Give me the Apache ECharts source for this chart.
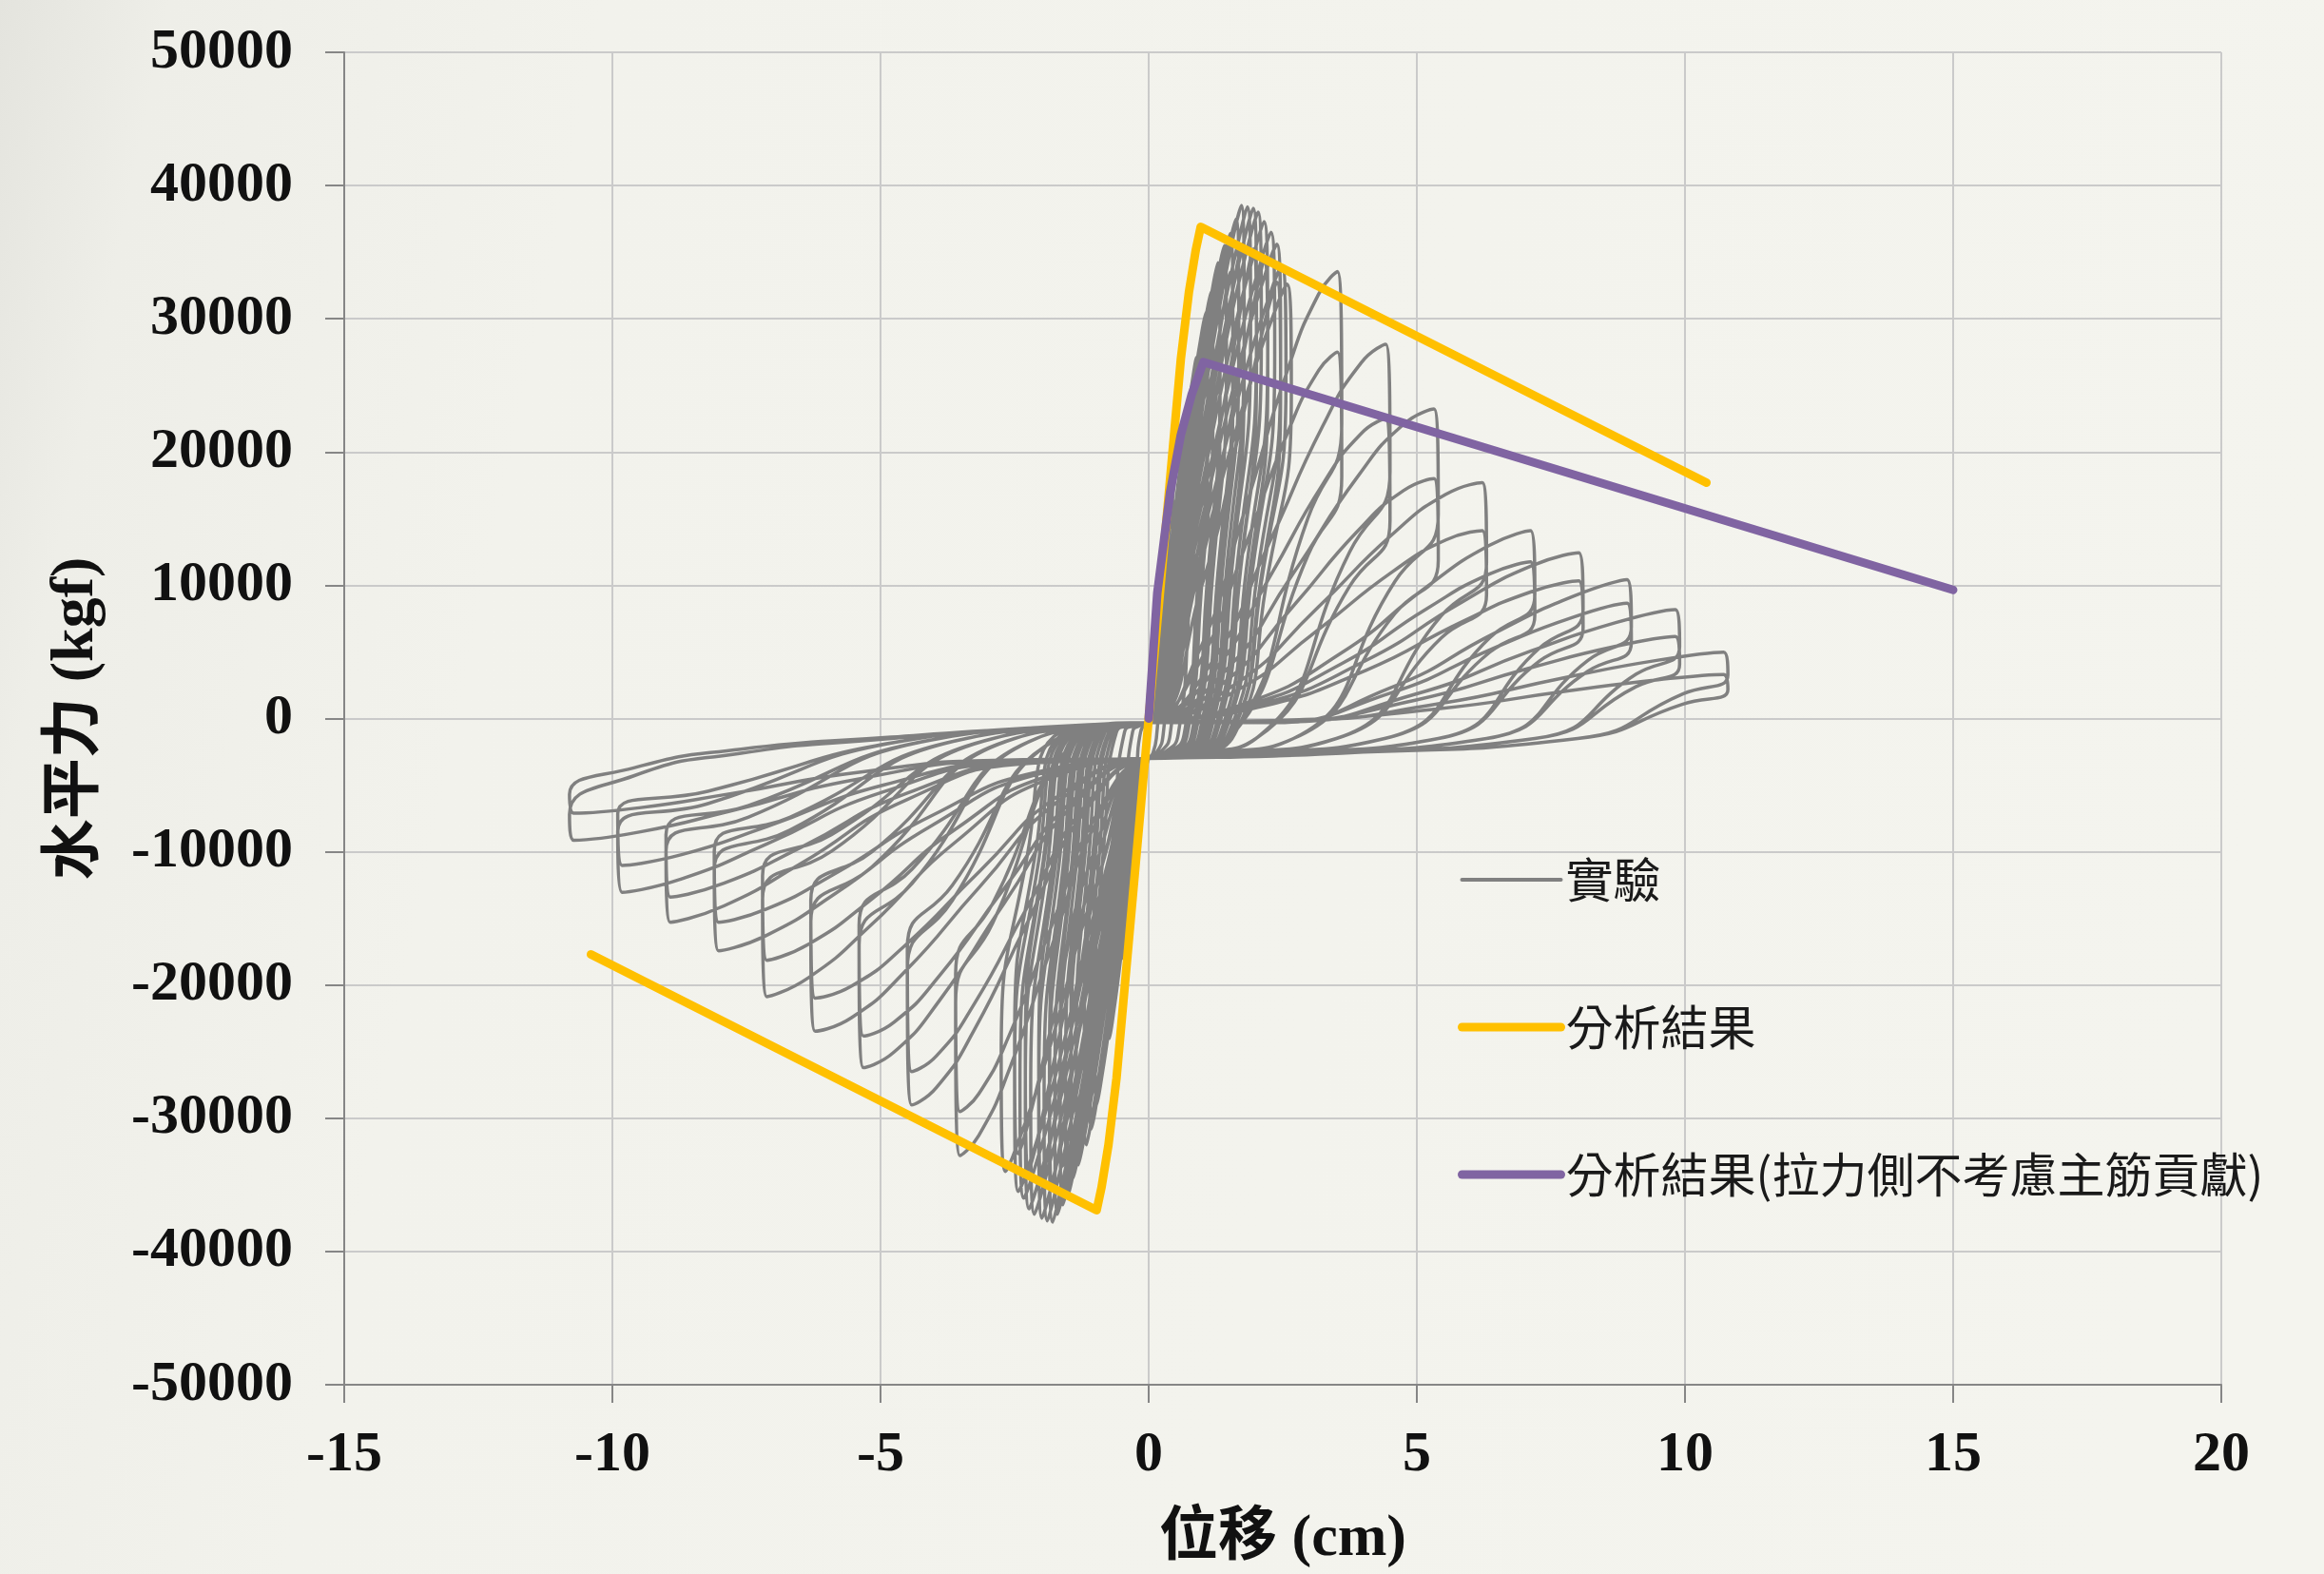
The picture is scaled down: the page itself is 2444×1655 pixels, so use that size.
<!DOCTYPE html>
<html>
<head>
<meta charset="utf-8">
<script src="https://cdn.jsdelivr.net/npm/echarts@6/dist/echarts.min.js"></script>
<style>
html,body{margin:0;padding:0;background:#f2f2ec;}
#chart{width:2444px;height:1655px;}
</style>
</head>
<body>
<div id="chart"></div>
<script>
// ---- axis ticks ----
const xTicks = [-15, -10, -5, 0, 5, 10, 15, 20];
const yTicks = [-50000, -40000, -30000, -20000, -10000, 0, 10000, 20000, 30000, 40000, 50000];

// ---- series names ----
const seriesNames = ['實驗', '分析結果', '分析結果(拉力側不考慮主筋貢獻)'];

// ---- experiment: small-amplitude cycles (displacement cm, force kgf), in loading order ----
const expInnerCycles = [
  [0,-300],[0.09,3240],[0.18,6840],[0.23,8550],[0.24,9000],[0.25,6750],[0.21,2700],[0.15,-1200],[0.08,-2600],
  [0,-3000],[-0.09,-3600],[-0.18,-7600],[-0.23,-9500],[-0.24,-10000],[-0.25,-7500],[-0.21,-3000],[-0.15,-1000],[-0.08,-500],
  [0,-300],[0.16,6120],[0.32,12920],[0.41,16150],[0.44,17000],[0.45,12750],[0.37,5100],[0.27,-1200],[0.14,-2600],
  [0,-3000],[-0.18,-6480],[-0.35,-13680],[-0.45,-17100],[-0.49,-18000],[-0.5,-13500],[-0.41,-5400],[-0.3,-1000],[-0.15,-500],
  [0,-300],[0.23,8060],[0.46,17020],[0.59,21280],[0.64,22400],[0.66,16800],[0.54,6720],[0.40,-1200],[0.20,-2600],
  [0,-3000],[-0.26,-8640],[-0.53,-18240],[-0.68,-22800],[-0.73,-24000],[-0.75,-18000],[-0.62,-7200],[-0.45,-1000],[-0.23,-500],
  [0,-300],[0.32,9760],[0.64,20600],[0.83,25750],[0.89,27100],[0.92,20330],[0.75,8130],[0.55,-1200],[0.28,-2600],
  [0,-3000],[-0.35,-10440],[-0.7,-22040],[-0.9,-27550],[-0.97,-29000],[-1.0,-21750],[-0.82,-8700],[-0.6,-1000],[-0.3,-500],
  [0,-300],[0.39,10980],[0.77,23180],[0.99,28980],[1.07,30500],[1.10,22880],[0.90,9150],[0.66,-1200],[0.33,-2600],
  [0,-3000],[-0.42,-11520],[-0.84,-24320],[-1.08,-30400],[-1.16,-32000],[-1.2,-24000],[-0.98,-9600],[-0.72,-1000],[-0.36,-500],
  [0,-300],[0.44,8420],[0.79,19640],[0.99,26100],[1.07,28060],[1.10,21050],[0.92,8420],[0.68,-1200],[0.33,-2600],
  [0,-3000],[-0.48,-8830],[-0.86,-20610],[-1.08,-27380],[-1.16,-29440],[-1.2,-22080],[-1.01,-8830],[-0.74,-1000],[-0.36,-500],
  [0,-300],[0.47,12310],[0.93,25990],[1.20,32490],[1.29,34200],[1.33,25650],[1.09,10260],[0.80,-1200],[0.40,-2600],
  [0,-3000],[-0.51,-12420],[-1.02,-26220],[-1.31,-32780],[-1.41,-34500],[-1.45,-25880],[-1.19,-10350],[-0.87,-1000],[-0.44,-500],
  [0,-300],[0.53,9440],[0.96,22020],[1.20,29260],[1.29,31460],[1.33,23600],[1.12,9440],[0.82,-1200],[0.40,-2600],
  [0,-3000],[-0.58,-9520],[-1.04,-22220],[-1.31,-29520],[-1.41,-31740],[-1.45,-23810],[-1.22,-9520],[-0.9,-1000],[-0.44,-500],
  [0,-300],[0.55,13100],[1.10,27660],[1.41,34580],[1.52,36400],[1.57,27300],[1.29,10920],[0.94,-1200],[0.47,-2600],
  [0,-3000],[-0.58,-13140],[-1.16,-27740],[-1.49,-34680],[-1.6,-36500],[-1.65,-27380],[-1.35,-10950],[-0.99,-1000],[-0.5,-500],
  [0,-300],[0.63,10050],[1.13,23440],[1.41,31150],[1.52,33490],[1.57,25120],[1.32,10050],[0.97,-1200],[0.47,-2600],
  [0,-3000],[-0.66,-10070],[-1.19,-23510],[-1.49,-31230],[-1.6,-33580],[-1.65,-25190],[-1.39,-10070],[-1.02,-1000],[-0.5,-500],
  [0,-300],[0.62,13860],[1.25,29260],[1.60,36580],[1.73,38500],[1.78,28880],[1.46,11550],[1.07,-1200],[0.53,-2600],
  [0,-3000],[-0.65,-13610],[-1.30,-28730],[-1.67,-35910],[-1.79,-37800],[-1.85,-28350],[-1.52,-11340],[-1.11,-1000],[-0.56,-500],
  [0,-300],[0.71,10630],[1.28,24790],[1.60,32940],[1.73,35420],[1.78,26570],[1.5,10630],[1.1,-1200],[0.53,-2600],
  [0,-3000],[-0.74,-10430],[-1.33,-24350],[-1.67,-32350],[-1.79,-34780],[-1.85,-26090],[-1.55,-10430],[-1.15,-1000],[-0.56,-500],
  [0,-300],[0.70,13790],[1.41,29110],[1.81,36390],[1.95,38300],[2.01,28730],[1.65,11490],[1.21,-1200],[0.60,-2600],
  [0,-3000],[-0.72,-13500],[-1.44,-28500],[-1.85,-35630],[-1.99,-37500],[-2.05,-28130],[-1.68,-11250],[-1.23,-1000],[-0.62,-500],
  [0,-300],[0.8,10570],[1.45,24670],[1.81,32770],[1.95,35240],[2.01,26430],[1.69,10570],[1.25,-1200],[0.6,-2600],
  [0,-3000],[-0.82,-10350],[-1.48,-24150],[-1.85,-32090],[-1.99,-34500],[-2.05,-25880],[-1.72,-10350],[-1.27,-1000],[-0.62,-500],
  [0,-300],[0.78,13430],[1.55,28350],[2.00,35440],[2.15,37300],[2.22,27980],[1.82,11190],[1.33,-1200],[0.67,-2600],
  [0,-3000],[-0.81,-13250],[-1.61,-27970],[-2.07,-34960],[-2.23,-36800],[-2.3,-27600],[-1.89,-11040],[-1.38,-1000],[-0.69,-500],
  [0,-300],[0.89,10300],[1.6,24020],[2.0,31920],[2.15,34320],[2.22,25740],[1.86,10300],[1.38,-1200],[0.67,-2600],
  [0,-3000],[-0.92,-10160],[-1.66,-23700],[-2.07,-31490],[-2.23,-33860],[-2.3,-25400],[-1.93,-10160],[-1.43,-1000],[-0.69,-500],
  [0,-300],[0.86,12820],[1.72,27060],[2.21,33820],[2.39,35600],[2.46,26700],[2.02,10680],[1.48,-1200],[0.74,-2600],
  [0,-3000],[-0.88,-12780],[-1.75,-26980],[-2.25,-33730],[-2.43,-35500],[-2.5,-26630],[-2.05,-10650],[-1.5,-1000],[-0.75,-500],
  [0,-300],[0.98,9830],[1.77,22930],[2.21,30460],[2.39,32750],[2.46,24560],[2.07,9830],[1.53,-1200],[0.74,-2600],
  [0,-3000],[-1.0,-9800],[-1.8,-22860],[-2.25,-30370],[-2.43,-32660],[-2.5,-24500],[-2.1,-9800],[-1.55,-1000],[-0.75,-500],
  [0,-300],[0.93,11740],[1.86,24780],[2.39,30970],[2.58,32600],[2.66,24450],[2.18,9780],[1.60,-1200],[0.80,-2600],
  [0,-3000],[-0.96,-12240],[-1.93,-25840],[-2.48,-32300],[-2.67,-34000],[-2.75,-25500],[-2.26,-10200],[-1.65,-1000],[-0.83,-500]
];

// ---- experiment: intermediate small cycles (dense core) ----
const expMidCycles = [
  [0,-300],[0.42,11520],[0.84,24320],[1.08,30400],[1.16,32000],[1.2,24000],[0.98,9600],[0.72,-1200],[0.36,-2600],
  [0,-3000],[-0.39,-11090],[-0.77,-23410],[-0.99,-29260],[-1.07,-30800],[-1.1,-23100],[-0.9,-9240],[-0.66,-1000],[-0.33,-500],
  [0,-300],[0.51,12780],[1.02,26980],[1.31,33730],[1.41,35500],[1.45,26630],[1.19,10650],[0.87,-1200],[0.44,-2600],
  [0,-3000],[-0.47,-12060],[-0.95,-25460],[-1.22,-31830],[-1.31,-33500],[-1.35,-25130],[-1.11,-10050],[-0.81,-1000],[-0.41,-500],
  [0,-300],[0.59,13500],[1.18,28500],[1.51,35630],[1.63,37500],[1.68,28130],[1.38,11250],[1.01,-1200],[0.5,-2600],
  [0,-3000],[-0.54,-12890],[-1.09,-27210],[-1.4,-34010],[-1.5,-35800],[-1.55,-26850],[-1.27,-10740],[-0.93,-1000],[-0.47,-500],
  [0,-300],[0.67,13820],[1.33,29180],[1.71,36480],[1.84,38400],[1.9,28800],[1.56,11520],[1.14,-1200],[0.57,-2600],
  [0,-3000],[-0.61,-13390],[-1.23,-28270],[-1.58,-35340],[-1.7,-37200],[-1.75,-27900],[-1.44,-11160],[-1.05,-1000],[-0.53,-500],
  [0,-300],[0.74,13680],[1.47,28880],[1.89,36100],[2.04,38000],[2.1,28500],[1.72,11400],[1.26,-1200],[0.63,-2600],
  [0,-3000],[-0.68,-13570],[-1.37,-28650],[-1.76,-35820],[-1.89,-37700],[-1.95,-28280],[-1.6,-11310],[-1.17,-1000],[-0.59,-500],
  [0,-300],[0.82,13140],[1.65,27740],[2.12,34680],[2.28,36500],[2.35,27380],[1.93,10950],[1.41,-1200],[0.71,-2600],
  [0,-3000],[-0.77,-13390],[-1.54,-28270],[-1.98,-35340],[-2.13,-37200],[-2.2,-27900],[-1.8,-11160],[-1.32,-1000],[-0.66,-500],
  [0,-300],[0.9,12240],[1.79,25840],[2.3,32300],[2.48,34000],[2.56,25500],[2.1,10200],[1.54,-1200],[0.77,-2600],
  [0,-3000],[-0.84,-12960],[-1.68,-27360],[-2.16,-34200],[-2.33,-36000],[-2.4,-27000],[-1.97,-10800],[-1.44,-1000],[-0.72,-500]
];

// ---- experiment: large-amplitude cycles (two cycles per level) ----
const expOuterCycles = [
  [0,-300],[0.9,4700],[1.8,15760],[2.59,26160],[3.17,31860],[3.52,33540],[3.6,22140],[2.97,15050],[1.5,-1500],[0.68,-2600],
  [0,-3000],[-0.9,-7170],[-1.8,-17010],[-2.59,-26240],[-3.17,-31310],[-3.52,-32800],[-3.6,-21320],[-2.91,-15370],[-1.3,-1500],[-0.59,-700],
  [0,-300],[0.9,3850],[1.8,12930],[2.59,21450],[3.17,26130],[3.52,27500],[3.6,18150],[2.97,12260],[1.5,-1500],[0.68,-2600],
  [0,-3000],[-0.9,-6710],[-1.8,-15460],[-2.59,-23670],[-3.17,-28180],[-3.52,-29500],[-3.6,-19180],[-2.91,-13880],[-1.3,-1500],[-0.59,-700],
  [0,-300],[1.13,3930],[2.25,13200],[3.24,21910],[3.96,26690],[4.42,28090],[4.5,18540],[3.75,12530],[2.0,-1500],[0.9,-2600],
  [0,-3000],[-1.13,-6640],[-2.25,-15220],[-3.24,-23280],[-3.96,-27700],[-4.42,-29000],[-4.5,-18850],[-3.66,-13650],[-1.7,-1500],[-0.77,-700],
  [0,-300],[1.13,3150],[2.25,10580],[3.24,17550],[3.96,21380],[4.42,22500],[4.5,14850],[3.75,9950],[2.0,-1500],[0.9,-2600],
  [0,-3000],[-1.13,-6290],[-2.25,-14050],[-3.24,-21330],[-3.96,-25330],[-4.42,-26500],[-4.5,-17230],[-3.66,-12510],[-1.7,-1500],[-0.77,-700],
  [0,-300],[1.35,3250],[2.7,10920],[3.89,18120],[4.75,22070],[5.32,23230],[5.4,15330],[4.59,10280],[2.7,-1500],[1.22,-2600],
  [0,-3000],[-1.35,-6250],[-2.7,-13900],[-3.89,-21100],[-4.75,-25040],[-5.32,-26200],[-5.4,-17030],[-4.41,-12370],[-2.1,-1500],[-0.95,-700],
  [0,-300],[1.35,2520],[2.7,8460],[3.89,14040],[4.75,17100],[5.32,18000],[5.4,11880],[4.59,7870],[2.7,-1500],[1.22,-2600],
  [0,-3000],[-1.35,-5920],[-2.7,-12790],[-3.89,-19250],[-4.75,-22790],[-5.32,-23830],[-5.4,-15490],[-4.41,-11290],[-2.1,-1500],[-0.95,-700],
  [0,-300],[1.58,2480],[3.15,8320],[4.54,13810],[5.54,16820],[6.22,17700],[6.3,11680],[5.46,7730],[3.5,-1500],[1.58,-2600],
  [0,-3000],[-1.58,-5870],[-3.15,-12620],[-4.54,-18970],[-5.54,-22450],[-6.22,-23470],[-6.3,-15260],[-5.16,-11130],[-2.5,-1500],[-1.13,-700],
  [0,-300],[1.58,1970],[3.15,6630],[4.54,11000],[5.54,13400],[6.22,14100],[6.3,9310],[5.46,6070],[3.5,-1500],[1.58,-2600],
  [0,-3000],[-1.58,-5520],[-3.15,-11450],[-4.54,-17020],[-5.54,-20080],[-6.22,-20980],[-6.3,-13640],[-5.16,-10000],[-2.5,-1500],[-1.13,-700],
  [0,-300],[1.8,1130],[3.6,4940],[5.18,9870],[6.34,12970],[7.12,14100],[7.2,9310],[6.36,6070],[4.4,-1500],[1.98,-2600],
  [0,-3000],[-1.8,-4430],[-3.6,-9260],[-5.18,-15510],[-6.34,-19440],[-7.12,-20870],[-7.2,-13570],[-5.91,-9950],[-2.9,-1500],[-1.31,-700],
  [0,-300],[1.8,940],[3.6,4120],[5.18,8230],[6.34,10820],[7.12,11760],[7.2,7760],[6.36,4980],[4.4,-1500],[1.98,-2600],
  [0,-3000],[-1.8,-4210],[-3.6,-8300],[-5.18,-13600],[-6.34,-16930],[-7.12,-18140],[-7.2,-11790],[-5.91,-8700],[-2.9,-1500],[-1.31,-700],
  [0,-300],[2.03,1000],[4.05,4350],[5.83,8710],[7.13,11440],[8.02,12440],[8.1,8210],[7.29,5300],[5.4,-1500],[2.43,-2600],
  [0,-3000],[-2.03,-4150],[-4.05,-8050],[-5.83,-13100],[-7.13,-16280],[-8.02,-17430],[-8.1,-11330],[-6.69,-8380],[-3.4,-1500],[-1.53,-700],
  [0,-300],[2.03,830],[4.05,3620],[5.83,7240],[7.13,9510],[8.02,10340],[8.1,6820],[7.29,4320],[5.4,-1500],[2.43,-2600],
  [0,-3000],[-2.03,-3980],[-4.05,-7300],[-5.83,-11600],[-7.13,-14310],[-8.02,-15290],[-8.1,-9940],[-6.69,-7410],[-3.4,-1500],[-1.53,-700],
  [0,-300],[2.25,-310],[4.5,2290],[6.48,6470],[7.92,9180],[8.92,10430],[9.0,6880],[8.19,4370],[6.3,-1500],[2.84,-2600],
  [0,-3000],[-2.25,-3370],[-4.5,-6070],[-6.48,-10870],[-7.92,-14060],[-8.92,-15290],[-9.0,-9940],[-7.47,-7410],[-3.9,-1500],[-1.76,-700],
  [0,-300],[2.25,-260],[4.5,1900],[6.48,5360],[7.92,7610],[8.92,8650],[9.0,5710],[8.19,3550],[6.3,-1500],[2.84,-2600],
  [0,-3000],[-2.25,-3310],[-4.5,-5600],[-6.48,-9660],[-7.92,-12360],[-8.92,-13400],[-9.0,-8710],[-7.47,-6550],[-3.9,-1500],[-1.76,-700],
  [0,-300],[2.48,-250],[4.95,1800],[7.13,5070],[8.71,7200],[9.82,8180],[9.9,5400],[9.09,3330],[7.2,-1500],[3.24,-2600],
  [0,-3000],[-2.48,-3300],[-4.95,-5510],[-7.13,-9430],[-8.71,-12040],[-9.82,-13040],[-9.9,-8480],[-8.22,-6390],[-4.3,-1500],[-1.94,-700],
  [0,-300],[2.48,-180],[4.95,1360],[7.13,3820],[8.71,5420],[9.82,6160],[9.9,4070],[9.09,2400],[7.2,-1500],[3.24,-2600],
  [0,-3000],[-2.48,-3240],[-4.95,-5000],[-7.13,-8130],[-8.71,-10220],[-9.82,-11020],[-9.9,-7160],[-8.22,-5460],[-4.3,-1500],[-1.94,-700],
  [0,-300],[2.7,-150],[5.4,1100],[7.78,3090],[9.5,4380],[10.72,4980],[10.8,3290],[9.96,1850],[8.0,-1500],[3.6,-2600],
  [0,-3000],[-2.7,-3180],[-5.4,-4530],[-7.78,-6920],[-9.5,-8520],[-10.72,-9130],[-10.8,-7200],[-9.6,-4300],[-7.6,-2600],[-4.8,-1500],[-2.16,-700],
  [0,-300],[2.7,-100],[5.4,730],[7.78,2050],[9.5,2910],[10.72,3310],[10.8,2180],[9.96,1080],[8.0,-1500],[3.6,-2600],
  [0,-3000],[-2.7,-3120],[-5.4,-4030],[-7.78,-5630],[-9.5,-6700],[-10.72,-7110],[-10.8,-5700],[-9.6,-3700],[-7.6,-2300],[-4.8,-1400],[-2.16,-700],
  [0,-300]
];

// ---- analysis (backbone) curves ----
const analysisFull = [
  [-10.4,-17700],[-0.97,-36900],[-0.88,-35200],[-0.75,-32000],[-0.6,-27000],[0,0],
  [0.6,27000],[0.75,32000],[0.88,35200],[0.97,36900],[10.4,17700]
];
const analysisNoTension = [
  [0,0],[0.16,9400],[0.4,17000],[0.6,21300],[0.8,24300],[1.02,26750],[15,9650]
];

const chart = echarts.init(document.getElementById('chart'), null, {renderer:'canvas'});
const serifFont = '"Times New Roman", "Liberation Serif", "Noto Sans CJK TC", serif';
const cjkFont = '"Noto Sans CJK TC", "Noto Sans CJK SC", sans-serif';

const option = {
  animation: false,
  backgroundColor: {
    type: 'linear', x: 0, y: 0, x2: 1, y2: 0.3,
    colorStops: [
      {offset: 0, color: '#e4e4de'},
      {offset: 0.07, color: '#eeeee8'},
      {offset: 0.25, color: '#f2f2ec'},
      {offset: 1, color: '#f4f4ee'}
    ]
  },
  grid: {left: 362, right: 108, top: 55, bottom: 195, containLabel: false},
  xAxis: {
    type: 'value', min: xTicks[0], max: xTicks[xTicks.length-1], interval: 5,
    name: '位移 (cm)', nameLocation: 'middle', nameGap: 132,
    nameTextStyle: {fontFamily: serifFont, fontWeight: 'bold', fontSize: 62, color: '#111'},
    axisLine: {onZero: false, lineStyle: {color: '#868686', width: 2}},
    axisTick: {show: true, inside: false, length: 19, lineStyle: {color: '#868686', width: 2}},
    axisLabel: {fontFamily: serifFont, fontWeight: 'bold', fontSize: 60, color: '#111', margin: 44,
      formatter: v => String(v)},
    splitLine: {show: true, lineStyle: {color: '#cacaca', width: 2}}
  },
  yAxis: {
    type: 'value', min: yTicks[0], max: yTicks[yTicks.length-1], interval: 10000,
    name: '水平力 (kgf)', nameLocation: 'middle', nameGap: 250,
    nameTextStyle: {fontFamily: serifFont, fontWeight: 'bold', fontSize: 64, color: '#111'},
    axisLine: {onZero: false, lineStyle: {color: '#868686', width: 2}},
    axisTick: {show: true, inside: false, length: 20, lineStyle: {color: '#868686', width: 2}},
    axisLabel: {fontFamily: serifFont, fontWeight: 'bold', fontSize: 60, color: '#111', margin: 54,
      formatter: v => String(v)},
    splitLine: {show: true, lineStyle: {color: '#cacaca', width: 2}}
  },
  legend: {
    orient: 'vertical', left: 1528, top: 894,
    itemWidth: 104, itemHeight: 14, itemGap: 103,
    textStyle: {fontFamily: cjkFont, fontSize: 50, color: '#1a1a1a', lineHeight: 52},
    itemStyle: {opacity: 0},
    data: [
      {name: seriesNames[0], itemStyle: {opacity: 0}, lineStyle: {width: 4, color: '#808080', cap: 'round'}},
      {name: seriesNames[1], itemStyle: {opacity: 0}, lineStyle: {width: 9, color: '#ffc000', cap: 'round'}},
      {name: seriesNames[2], itemStyle: {opacity: 0}, lineStyle: {width: 9, color: '#8064a2', cap: 'round'}}
    ]
  },
  series: [
    {
      name: seriesNames[0], type: 'line', symbol: 'none', smooth: 0.55,
      data: expInnerCycles.concat(expMidCycles, expOuterCycles),
      lineStyle: {color: '#808080', width: 3.5},
      itemStyle: {color: '#808080'},
      z: 2
    },
    {
      name: seriesNames[1], type: 'line', symbol: 'none',
      data: analysisFull,
      lineStyle: {color: '#ffc000', width: 9, cap: 'round', join: 'round'},
      itemStyle: {color: '#ffc000'},
      z: 3
    },
    {
      name: seriesNames[2], type: 'line', symbol: 'none',
      data: analysisNoTension,
      lineStyle: {color: '#8064a2', width: 9, cap: 'round', join: 'round'},
      itemStyle: {color: '#8064a2'},
      z: 4
    }
  ]
};
chart.setOption(option);
</script>
</body>
</html>
